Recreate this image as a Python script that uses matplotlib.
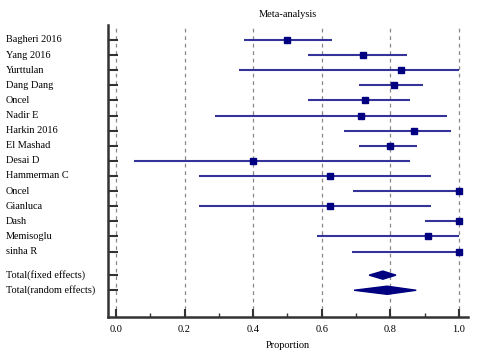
import numpy as np
import matplotlib
matplotlib.use('agg')
import matplotlib.pyplot as plt
from matplotlib.transforms import blended_transform_factory

# study data
studies = ["Bagheri 2016", "Yang 2016", "Yurttulan", "Dang Dang", "Oncel",
           "Nadir E", "Harkin 2016", "El Mashad", "Desai D", "Hammerman C",
           "Oncel", "Gianluca", "Dash", "Memisoglu", "sinha R"]
est = [0.50, 0.72, 0.83, 0.81, 0.725, 0.714, 0.869, 0.80, 0.40, 0.624,
       1.0, 0.624, 1.0, 0.91, 1.0]
lo = [0.373, 0.56, 0.359, 0.708, 0.56, 0.289, 0.665, 0.708, 0.052, 0.242,
      0.691, 0.242, 0.90, 0.586, 0.688]
hi = [0.630, 0.848, 1.0, 0.895, 0.857, 0.965, 0.977, 0.878, 0.857, 0.918,
      1.0, 0.918, 1.0, 1.0, 1.0]

totals = ["Total(fixed effects)", "Total(random effects)"]
tot_est = [0.778, 0.79]
tot_lo = [0.738, 0.694]
tot_hi = [0.816, 0.875]

plt.rcParams['font.family'] = 'Liberation Serif'
fig = plt.figure(figsize=(4.8, 3.6), dpi=100)
ax = fig.add_axes([0.225, 0.119, 0.75, 0.812])

line_col = '#333399'
mark_col = '#000080'

rows = np.arange(len(studies))
tot_rows = [15.56, 16.56]

for x in [0.0, 0.2, 0.4, 0.6, 0.8, 1.0]:
    ax.axvline(x, color='#888888', ls=(0, (3, 3)), lw=0.9, zorder=0)

ax.hlines(rows, lo, hi, color=line_col, lw=1.5, zorder=2)
ax.plot(est, rows, 's', color=mark_col, ms=4.5, zorder=3)

h = 0.27
for y, e, l, r in zip(tot_rows, tot_est, tot_lo, tot_hi):
    ax.fill([l, e, r, e], [y, y - h, y, y + h], color=mark_col, lw=1.0,
            ec=mark_col, zorder=3)

ax.set_xlim(-0.023, 1.026)
ax.set_ylim(18.34, -1)

ax.spines['top'].set_visible(False)
ax.spines['right'].set_visible(False)
for s in ['left', 'bottom']:
    ax.spines[s].set_linewidth(1.8)
    ax.spines[s].set_color('#333333')

ax.set_xticks([0.0, 0.2, 0.4, 0.6, 0.8, 1.0])
ax.set_xticklabels(['0.0', '0.2', '0.4', '0.6', '0.8', '1.0'])
ax.set_xticks([0.1, 0.3, 0.5, 0.7, 0.9], minor=True)
ax.tick_params(axis='x', which='major', direction='in', length=6, width=1.5,
               color='#333333', labelsize=7.5, pad=6)
ax.tick_params(axis='x', which='minor', direction='in', length=3, width=1,
               color='#333333')
ax.set_yticks(list(rows) + tot_rows)
ax.set_yticklabels([])
ax.tick_params(axis='y', direction='in', length=7, width=1.5, color='#333333')

trans = blended_transform_factory(fig.transFigure, ax.transData)
for y, name in zip(list(rows) + tot_rows, studies + totals):
    ax.text(6 / 480, y, name, transform=trans, ha='left', va='center',
            fontsize=7.4)

ax.set_title('Meta-analysis', fontsize=7.5, pad=6)
ax.set_xlabel('Proportion', fontsize=7.5, labelpad=5)

fig.savefig('out.png', dpi=100)
